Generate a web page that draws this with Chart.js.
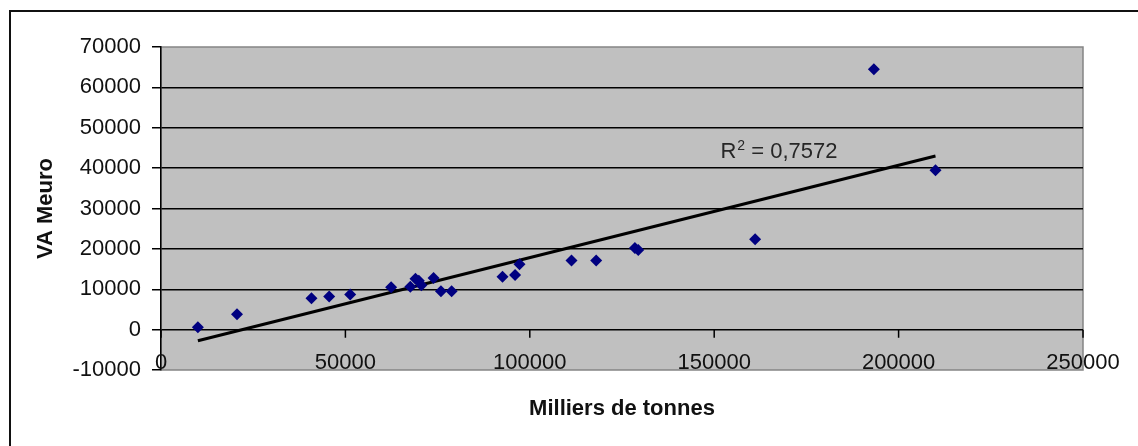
<!DOCTYPE html>
<html>
<head>
<meta charset="utf-8">
<script src="https://cdn.jsdelivr.net/npm/chart.js@4.4.1/dist/chart.umd.min.js"></script>
<style>
  body { margin: 0; background: #fff; overflow: hidden; }
  #frame { position: absolute; left: 9px; top: 10px; width: 1200px; height: 500px;
           border-top: 2px solid #111; border-left: 2px solid #111; }
  #chart { position: absolute; left: 0; top: 0; }
</style>
</head>
<body>
<div id="frame"></div>
<canvas id="chart" width="1138" height="446"></canvas>
<script>
"use strict";

// milliers de tonnes vs VA (Meuro)
const tonnes = [10000, 20600, 40800, 45600, 51300, 62400, 67600, 69000, 69900, 70600,
  73900, 75900, 78800, 92600, 96000, 97200, 111300, 118000, 128500, 129400,
  161100, 193300, 210000];
const vaMeuro = [600, 3800, 7800, 8200, 8700, 10500, 10600, 12600, 12100, 11000,
  12800, 9500, 9500, 13100, 13500, 16200, 17100, 17100, 20200, 19700,
  22400, 64500, 39500];

// trend line ends
const trendX = [10000, 210000];
const trendY = [-2750, 43000];

const r2Text = "0,7572";
const r2Pos = [151700, 42500];

const xTicks = [0, 50000, 100000, 150000, 200000, 250000];
const yTicks = [-10000, 0, 10000, 20000, 30000, 40000, 50000, 60000, 70000];

const fontFamily = "'Liberation Sans', Arial, sans-serif";

let points = [];
for (let i in tonnes) {
  points.push({ x: tonnes[i], y: vaMeuro[i] });
}
let trendPoints = [];
for (let i in trendX) {
  trendPoints.push({ x: trendX[i], y: trendY[i] });
}

const plotArea = {
  id: "plotArea",
  beforeDraw(chart) {
    const a = chart.chartArea;
    const ctx = chart.ctx;
    ctx.save();
    ctx.fillStyle = "#c0c0c0";
    ctx.fillRect(a.left, a.top, a.right - a.left, a.bottom - a.top);
    ctx.strokeStyle = "#858585";
    ctx.lineWidth = 1.5;
    ctx.strokeRect(a.left, a.top, a.right - a.left, a.bottom - a.top);
    ctx.restore();
  },
  beforeDatasetsDraw(chart) {
    // x axis crosses at y = 0, tick marks hang below it
    const xs = chart.scales.x;
    const ys = chart.scales.y;
    const ctx = chart.ctx;
    const y0 = ys.getPixelForValue(0);
    ctx.save();
    ctx.strokeStyle = "#000";
    ctx.lineWidth = 1.5;
    ctx.beginPath();
    for (let t of xs.ticks) {
      let px = xs.getPixelForValue(t.value);
      ctx.moveTo(px, y0);
      ctx.lineTo(px, y0 + 8);
    }
    ctx.stroke();
    ctx.restore();
  },
  afterDatasetsDraw(chart) {
    const xs = chart.scales.x;
    const ys = chart.scales.y;
    const ctx = chart.ctx;
    let px = xs.getPixelForValue(r2Pos[0]);
    let py = ys.getPixelForValue(r2Pos[1]);
    ctx.save();
    ctx.fillStyle = "#262626";
    ctx.textBaseline = "alphabetic";
    ctx.font = "22px " + fontFamily;
    ctx.fillText("R", px, py);
    let w = ctx.measureText("R").width;
    ctx.font = "14px " + fontFamily;
    ctx.fillText("2", px + w + 1, py - 8);
    let w2 = ctx.measureText("2").width;
    ctx.font = "22px " + fontFamily;
    ctx.fillText(" = " + r2Text, px + w + w2 + 1, py);

    // x tick labels sit low, over the bottom edge of the plot
    ctx.fillStyle = "#111";
    ctx.textAlign = "center";
    ctx.textBaseline = "middle";
    for (let t of xs.ticks) {
      ctx.fillText(t.label, xs.getPixelForValue(t.value), chart.chartArea.bottom - 7);
    }
    ctx.restore();
  },
};

const ctx = document.getElementById("chart").getContext("2d");
const myChart = new Chart(ctx, {
  type: "scatter",
  data: {
    datasets: [
      {
        label: "VA",
        data: points,
        pointStyle: "rectRot",
        pointRadius: 6,
        pointHoverRadius: 6,
        backgroundColor: "#000080",
        borderColor: "#000080",
        borderWidth: 0,
        order: 1,
      },
      {
        label: "Tendance",
        type: "line",
        data: trendPoints,
        showLine: true,
        borderColor: "#000",
        borderWidth: 3,
        pointRadius: 0,
        fill: false,
        order: 2,
      },
    ],
  },
  options: {
    responsive: false,
    animation: false,
    layout: { padding: { left: 0, top: 47, right: 55, bottom: 0 } },
    plugins: {
      legend: { display: false },
      tooltip: { enabled: false },
    },
    scales: {
      x: {
        type: "linear",
        min: 0,
        max: 250000,
        afterBuildTicks: (s) => { s.ticks = xTicks.map((v) => ({ value: v })); },
        afterFit: (s) => { s.height = 76; },
        grid: { display: false, drawTicks: false },
        border: { display: false },
        ticks: {
          display: false,
          autoSkip: false,
          maxRotation: 0,
          callback: (v) => String(v),
        },
        title: {
          display: true,
          text: "Milliers de tonnes",
          color: "#111",
          padding: 24,
          font: { family: fontFamily, size: 22, weight: "bold" },
        },
      },
      y: {
        type: "linear",
        min: -10000,
        max: 70000,
        afterBuildTicks: (s) => { s.ticks = yTicks.map((v) => ({ value: v })); },
        afterFit: (s) => { s.width = 161; },
        grid: {
          color: (c) => (c.tick && (c.tick.value === 70000 || c.tick.value === -10000)) ? "rgba(0,0,0,0)" : "#000",
          tickColor: "#000",
          lineWidth: 1.5,
          tickLength: 9,
        },
        border: { display: true, color: "#000", width: 1.5 },
        ticks: {
          padding: 11,
          color: "#111",
          font: { family: fontFamily, size: 22 },
          callback: (v) => String(v),
        },
        title: {
          display: true,
          text: "VA Meuro",
          color: "#111",
          padding: 33,
          font: { family: fontFamily, size: 22, weight: "bold" },
        },
      },
    },
  },
  plugins: [plotArea],
});
</script>
</body>
</html>
